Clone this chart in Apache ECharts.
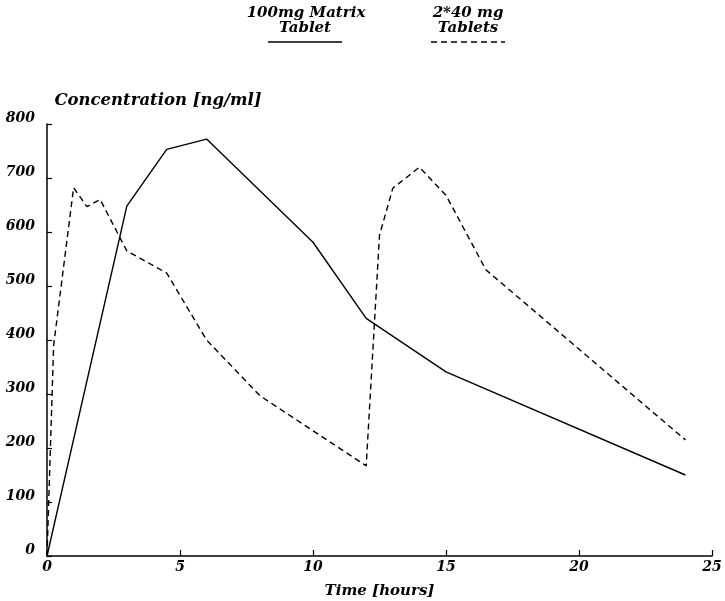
<!DOCTYPE html>
<html>
<head>
<meta charset="utf-8">
<script src="https://cdn.jsdelivr.net/npm/echarts@6/dist/echarts.min.js"></script>
<style>
  html, body { margin: 0; padding: 0; background: #fff; }
  #chart { width: 725px; height: 601px; }
</style>
</head>
<body>
<div id="chart"></div>
<script>
// Data
const matrixTime = [0, 3, 4.5, 6, 10, 12, 15, 24];
const matrixConc = [0, 648, 753, 772, 581, 440, 341, 150];

const tabletsTime = [0, 0.25, 1, 1.5, 2, 3, 4.5, 6, 8, 10, 12, 12.5, 13, 14, 15, 16.5, 24];
const tabletsConc = [0, 390, 682, 647, 660, 565, 524, 400, 297, 232, 167, 594, 681, 720, 668, 530, 215];

const legendLines = [['100mg Matrix', 'Tablet'], ['2*40 mg', 'Tablets']];
const seriesNames = legendLines.map(l => l.join(' '));
const xTicks = [0, 5, 10, 15, 20, 25];
const yTicks = [0, 100, 200, 300, 400, 500, 600, 700, 800];
const xTitle = 'Time [hours]';
const yTitle = 'Concentration [ng/ml]';

const FONT = '"DejaVu Serif", serif';
const chart = echarts.init(document.getElementById('chart'));

const pairs = (xs, ys) => xs.map((x, i) => [x, ys[i]]);
const txt = (s, x, y, size) => ({
  type: 'text', style: { text: s, x: x, y: y, align: 'center', verticalAlign: 'middle',
    font: 'italic bold ' + size + 'px "DejaVu Serif", serif', fill: '#000' }
});

chart.setOption({
  animation: false,
  backgroundColor: '#fff',
  grid: { left: 47, right: 13, top: 124, bottom: 45, containLabel: false, outerBoundsMode: 'none' },
  xAxis: {
    type: 'value',
    min: xTicks[0], max: xTicks[xTicks.length - 1], interval: 5,
    name: xTitle,
    nameLocation: 'middle',
    nameGap: 28,
    nameTextStyle: { fontFamily: FONT, fontStyle: 'italic', fontWeight: 'bold', fontSize: 15, color: '#000' },
    axisLine: { show: true, onZero: false, lineStyle: { color: '#000', width: 1.5 } },
    axisTick: { show: true, inside: true, length: 6, lineStyle: { color: '#000', width: 1.2 } },
    axisLabel: { fontFamily: FONT, fontStyle: 'italic', fontWeight: 'bold', fontSize: 14, color: '#000', margin: 4 },
    splitLine: { show: false }
  },
  yAxis: {
    type: 'value',
    min: yTicks[0], max: yTicks[yTicks.length - 1], interval: 100,
    axisLine: { show: true, onZero: false, lineStyle: { color: '#000', width: 1.5 } },
    axisTick: { show: true, inside: true, length: 5, lineStyle: { color: '#000', width: 1.2 } },
    axisLabel: { fontFamily: FONT, fontStyle: 'italic', fontWeight: 'bold', fontSize: 14, color: '#000', margin: 12, verticalAlign: 'bottom', lineHeight: 11 },
    splitLine: { show: false }
  },
  graphic: [
    txt(yTitle, 158, 101, 16.5),
    txt(legendLines[0][0], 306, 13, 15),
    txt(legendLines[0][1], 305, 28, 15),
    { type: 'line', shape: { x1: 268, y1: 42, x2: 342, y2: 42 }, style: { stroke: '#000', lineWidth: 1.5 } },
    txt(legendLines[1][0], 468, 13, 15),
    txt(legendLines[1][1], 468, 28, 15),
    { type: 'line', shape: { x1: 431, y1: 42, x2: 505, y2: 42 }, style: { stroke: '#000', lineWidth: 1.5, lineDash: [6, 4] } }
  ],
  series: [
    {
      name: seriesNames[0], type: 'line', data: pairs(matrixTime, matrixConc),
      showSymbol: false, symbol: 'none',
      lineStyle: { color: '#000', width: 1.4, type: 'solid' }
    },
    {
      name: seriesNames[1], type: 'line', data: pairs(tabletsTime, tabletsConc),
      showSymbol: false, symbol: 'none',
      lineStyle: { color: '#000', width: 1.4, type: [6, 4] }
    }
  ]
});
</script>
</body>
</html>
